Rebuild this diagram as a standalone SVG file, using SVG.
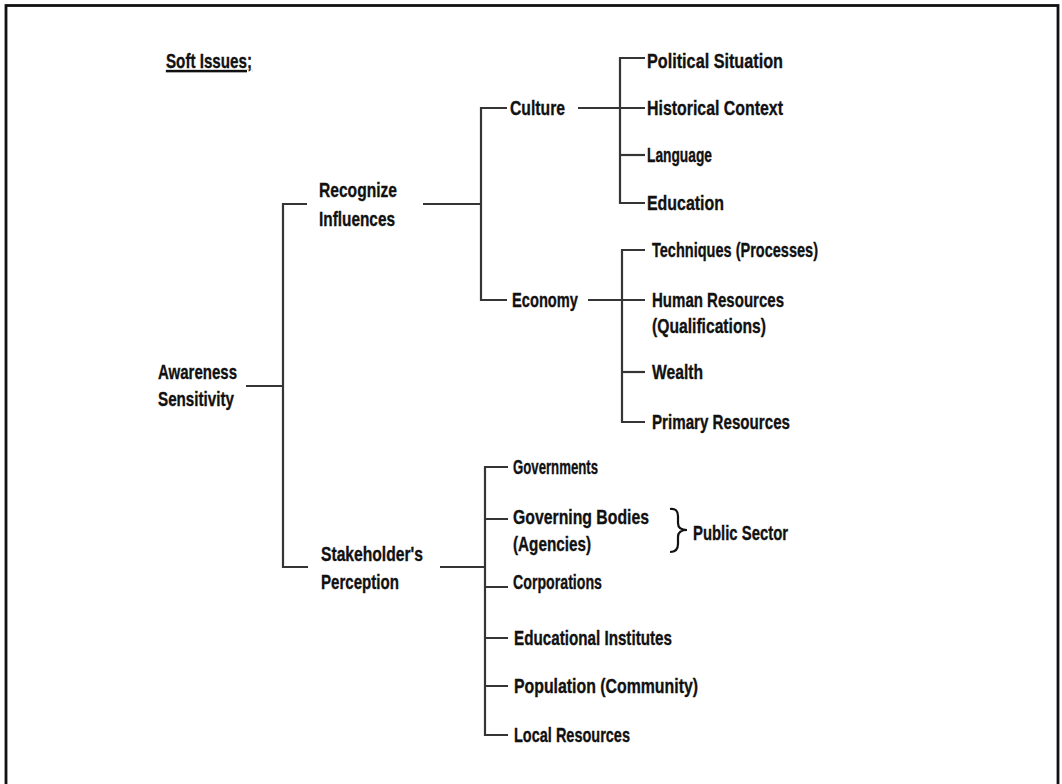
<svg xmlns="http://www.w3.org/2000/svg" width="1062" height="784" viewBox="0 0 1062 784">
<style>
text{font-family:"Liberation Sans",Arial,sans-serif;font-weight:bold;font-size:21px;fill:#111;stroke:#111;stroke-width:0.35;}
.c path{fill:none;stroke:#353535;stroke-width:2.2;}
.brace{fill:none;stroke:#111;stroke-width:2.2;}
</style>
<rect x="0" y="0" width="1062" height="784" fill="#fff"/>
<rect x="6" y="5.5" width="1052" height="800" fill="none" stroke="#111" stroke-width="2.8"/>
<text id="title" x="166" y="68" textLength="86" lengthAdjust="spacingAndGlyphs" text-decoration="underline">Soft Issues;</text>
<g class="c" id="connectors">
<path d="M246,386H283"/>
<path d="M307,204H283V567H308"/>
<path d="M423,204H481"/>
<path d="M507,108H481V300H507"/>
<path d="M578,108H645"/>
<path d="M645,58H620V203H645"/>
<path d="M620,155H645"/>
<path d="M588,300H645"/>
<path d="M645,250H622V422H645"/>
<path d="M622,372H645"/>
<path d="M440,567H485"/>
<path d="M508,467H485V735H508"/>
<path d="M485,519H508M485,587H508M485,638H508M485,686H508"/>
</g>
<g id="n-awareness"><text x="158" y="379" textLength="79" lengthAdjust="spacingAndGlyphs">Awareness</text><text x="158" y="406" textLength="76" lengthAdjust="spacingAndGlyphs">Sensitivity</text></g>
<g id="n-recognize"><text x="319" y="197" textLength="78" lengthAdjust="spacingAndGlyphs">Recognize</text><text x="319" y="226" textLength="76" lengthAdjust="spacingAndGlyphs">Influences</text></g>
<g id="n-stakeholder"><text x="321" y="561" textLength="102" lengthAdjust="spacingAndGlyphs">Stakeholder's</text><text x="321" y="589" textLength="78" lengthAdjust="spacingAndGlyphs">Perception</text></g>
<g id="n-culture"><text x="510" y="115" textLength="55" lengthAdjust="spacingAndGlyphs">Culture</text></g>
<g id="n-economy"><text x="512" y="307" textLength="66" lengthAdjust="spacingAndGlyphs">Economy</text></g>
<g id="n-political"><text x="647" y="68" textLength="136" lengthAdjust="spacingAndGlyphs">Political Situation</text></g>
<g id="n-historical"><text x="647" y="115" textLength="136" lengthAdjust="spacingAndGlyphs">Historical Context</text></g>
<g id="n-language"><text x="647" y="162" textLength="65" lengthAdjust="spacingAndGlyphs">Language</text></g>
<g id="n-education"><text x="647" y="210" textLength="77" lengthAdjust="spacingAndGlyphs">Education</text></g>
<g id="n-techniques"><text x="652" y="257" textLength="166" lengthAdjust="spacingAndGlyphs">Techniques (Processes)</text></g>
<g id="n-human"><text x="652" y="307" textLength="132" lengthAdjust="spacingAndGlyphs">Human Resources</text><text x="652" y="333" textLength="114" lengthAdjust="spacingAndGlyphs">(Qualifications)</text></g>
<g id="n-wealth"><text x="652" y="379" textLength="51" lengthAdjust="spacingAndGlyphs">Wealth</text></g>
<g id="n-primary"><text x="652" y="429" textLength="138" lengthAdjust="spacingAndGlyphs">Primary Resources</text></g>
<g id="n-governments"><text x="513" y="474" textLength="85" lengthAdjust="spacingAndGlyphs">Governments</text></g>
<g id="n-governing"><text x="513" y="524" textLength="136" lengthAdjust="spacingAndGlyphs">Governing Bodies</text><text x="513" y="551" textLength="78" lengthAdjust="spacingAndGlyphs">(Agencies)</text></g>
<g id="n-corporations"><text x="513" y="589" textLength="89" lengthAdjust="spacingAndGlyphs">Corporations</text></g>
<g id="n-edinst"><text x="514" y="645" textLength="158" lengthAdjust="spacingAndGlyphs">Educational Institutes</text></g>
<g id="n-population"><text x="514" y="693" textLength="184" lengthAdjust="spacingAndGlyphs">Population (Community)</text></g>
<g id="n-local"><text x="514" y="742" textLength="116" lengthAdjust="spacingAndGlyphs">Local Resources</text></g>
<g id="n-public">
<path class="brace" d="M670,509Q678,508 678,516V523Q678,530 687,530Q678,530 678,537V544Q678,552 670,552"/>
<text x="693" y="540" textLength="95" lengthAdjust="spacingAndGlyphs">Public Sector</text>
</g>
</svg>
